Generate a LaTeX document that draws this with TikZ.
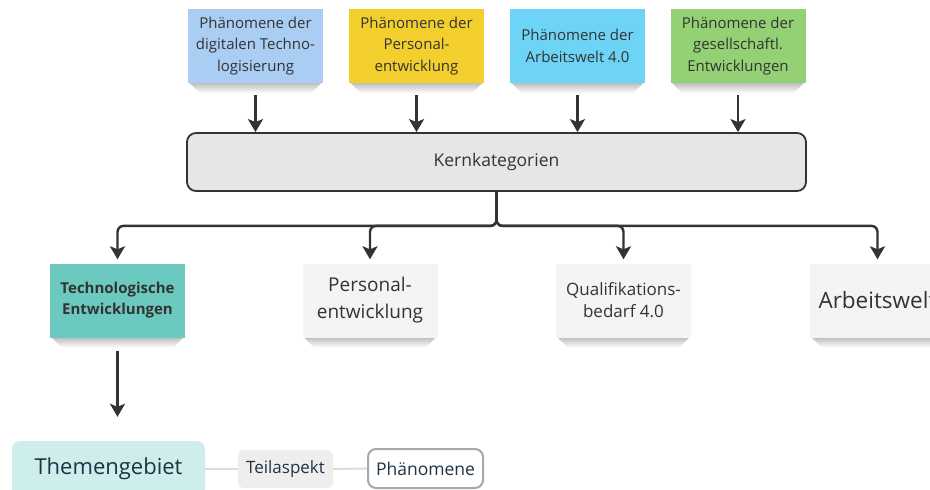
\documentclass[tikz,border=0pt]{standalone}
\usepackage{fontspec}
\setmainfont{Open Sans}
\usetikzlibrary{arrows.meta,backgrounds,calc}

\definecolor{ink}{HTML}{333333}
\definecolor{navy}{HTML}{1E3445}
\definecolor{noteblue}{HTML}{A9CDF3}
\definecolor{noteyellow}{HTML}{F3CF2E}
\definecolor{notecyan}{HTML}{6DD4F6}
\definecolor{notegreen}{HTML}{93D174}
\definecolor{noteteal}{HTML}{6CC9C0}
\definecolor{notepale}{HTML}{F3F4F6}
\definecolor{coregray}{HTML}{E6E6E6}
\definecolor{themefill}{HTML}{CDEEEA}
\definecolor{partfill}{HTML}{EEEEEE}
\definecolor{linkgray}{HTML}{DCDCDC}
\definecolor{framegray}{HTML}{A8A8A8}

\tikzset{
  note/.style={minimum width=135pt, minimum height=74pt, inner sep=0pt,
    align=center, text=ink, font=\fontsize{15}{21.5}\selectfont},
  flow/.style={draw=ink, line width=2.4pt,
    -{Stealth[length=13pt,width=15pt,inset=3pt]}},
  link/.style={draw=linkgray, line width=2pt},
}

% soft shadow under the lower edge of a sticky note
\newcommand{\noteshadow}[1]{%
  \begin{pgfonlayer}{background}
    \shade[top color=black!50, bottom color=white]
      ($(#1.south west)+(5,0)$) -- ($(#1.south east)+(-5,0)$)
      .. controls ($(#1.south east)+(-7,5)$) .. ($(#1.south east)+(-16,8)$)
      -- ($(#1.south west)+(16,8)$)
      .. controls ($(#1.south west)+(7,5)$) .. cycle;
    \shade[top color=black!25, bottom color=white]
      ($(#1.south west)+(2,0)$) -- ($(#1.south east)+(-2,0)$)
      -- ($(#1.south east)+(-12,10)$) -- ($(#1.south west)+(12,10)$) -- cycle;
  \end{pgfonlayer}}

\begin{document}
\begin{tikzpicture}[x=1pt, y=-1pt]
\useasboundingbox (0,0) rectangle (930,490);
\begin{pgfonlayer}{background}
  \fill[white] (0,0) rectangle (930,490);
\end{pgfonlayer}

% phenomenon notes
\node[note, fill=noteblue]   (p1) at (255.5,46) {Phänomene der\\digitalen Techno-\\logisierung};
\node[note, fill=noteyellow] (p2) at (416.5,46) {Phänomene der\\Personal-\\entwicklung};
\node[note, fill=notecyan]   (p3) at (577.5,46) {Phänomene der\\Arbeitswelt 4.0};
\node[note, fill=notegreen]  (p4) at (738,46)   {Phänomene der\\gesellschaftl.\\Entwicklungen};
\foreach \n in {p1,p2,p3,p4} {\noteshadow{\n}}

% core categories bar
\node[draw=ink, line width=1.8pt, fill=coregray, rounded corners=9pt,
      minimum width=619pt, minimum height=58pt, text=ink,
      font=\fontsize{17.5}{21}\selectfont] (kern) at (496.5,162) {Kernkategorien};

\foreach \n in {p1,p2,p3,p4}
  \draw[flow, shorten <=12pt] (\n.south) -- (\n.south |- kern.north);

% category notes
\node[note, fill=noteteal, font=\bfseries\fontsize{15}{21}\selectfont] (tech) at (117.5,300.5)
  {Technologische\\Entwicklungen};
\node[note, fill=notepale, font=\fontsize{19}{27}\selectfont] (pers) at (370,300.5)
  {Personal-\\entwicklung};
\node[note, fill=notepale, font=\fontsize{17}{22}\selectfont] (qual) at (623.5,300.5)
  {Qualifikations-\\bedarf 4.0};
\node[note, fill=notepale, font=\fontsize{22.5}{26}\selectfont] (arb) at (877.5,300.5)
  {Arbeitswelt};
\foreach \n in {tech,pers,qual,arb} {\noteshadow{\n}}

\foreach \n in {tech,pers,qual,arb}
  \draw[flow, rounded corners=6pt, shorten >=4pt]
    (kern.south) -- ($(kern.south)+(0,34)$) -| (\n.north);

% legend row
\node[fill=themefill, rounded corners=8pt, minimum width=193pt, minimum height=56pt,
      text=navy, font=\fontsize{22}{26}\selectfont] (theme) at (108.5,469) {Themengebiet};
\node[fill=partfill, rounded corners=6pt, minimum width=95pt, minimum height=38pt,
      text=navy, font=\fontsize{17}{20}\selectfont] (part) at (285.5,469) {Teilaspekt};
\node[draw=framegray, line width=2pt, fill=white, rounded corners=8pt,
      minimum width=115pt, minimum height=39pt,
      text=navy, font=\fontsize{17.5}{20}\selectfont] (phen) at (425.5,468.5) {Phänomene};
\draw[link] (theme.east) -- (part.west);
\draw[link] (part.east) -- (phen.west);

\draw[flow, shorten <=13pt, shorten >=24pt] (tech.south) -- (tech.south |- theme.north);
\end{tikzpicture}
\end{document}
